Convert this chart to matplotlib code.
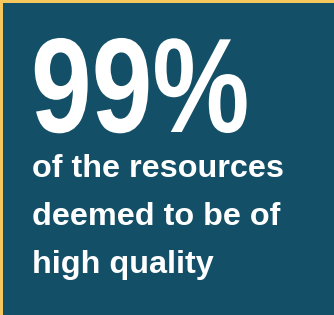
import matplotlib.pyplot as plt
from matplotlib.patches import Rectangle
from matplotlib.patheffects import AbstractPathEffect
from matplotlib.transforms import Affine2D

W, H = 334, 315

big_value = "99%"
caption_lines = ["of the resources", "deemed to be of", "high quality"]

BG = "#135067"
BORDER = "#f6c75c"


class Squeeze(AbstractPathEffect):
    """Condense glyphs horizontally about a fixed x (display pixels)."""

    def __init__(self, x0, sx):
        super().__init__()
        self.x0, self.sx = x0, sx

    def draw_path(self, renderer, gc, tpath, affine, rgbFace=None):
        squeeze = Affine2D().translate(-self.x0, 0).scale(self.sx, 1).translate(self.x0, 0)
        renderer.draw_path(gc, tpath, affine + squeeze, rgbFace)


fig = plt.figure(figsize=(W / 100, H / 100), dpi=100, facecolor=BORDER)

# teal panel, yellow shows only on top and left edges
fig.patches.append(Rectangle((3 / W, 0), 1, 1 - 3 / H, transform=fig.transFigure,
                             facecolor=BG, edgecolor="none", zorder=0))


def px(x, y):
    return x / W, 1 - y / H


x_big = 31
fig.text(*px(x_big, 132), big_value, fontsize=97, fontweight="bold", color="white",
         family=["Liberation Sans", "DejaVu Sans"], va="baseline", ha="left",
         path_effects=[Squeeze(x_big, 0.81)])

for i, line in enumerate(caption_lines):
    fig.text(*px(32, 177 + 48 * i), line, fontsize=23.3, fontweight="bold",
             color="white", family=["Liberation Sans", "DejaVu Sans"],
             va="baseline", ha="left")

fig.savefig("out.png", dpi=100, facecolor=BORDER)
